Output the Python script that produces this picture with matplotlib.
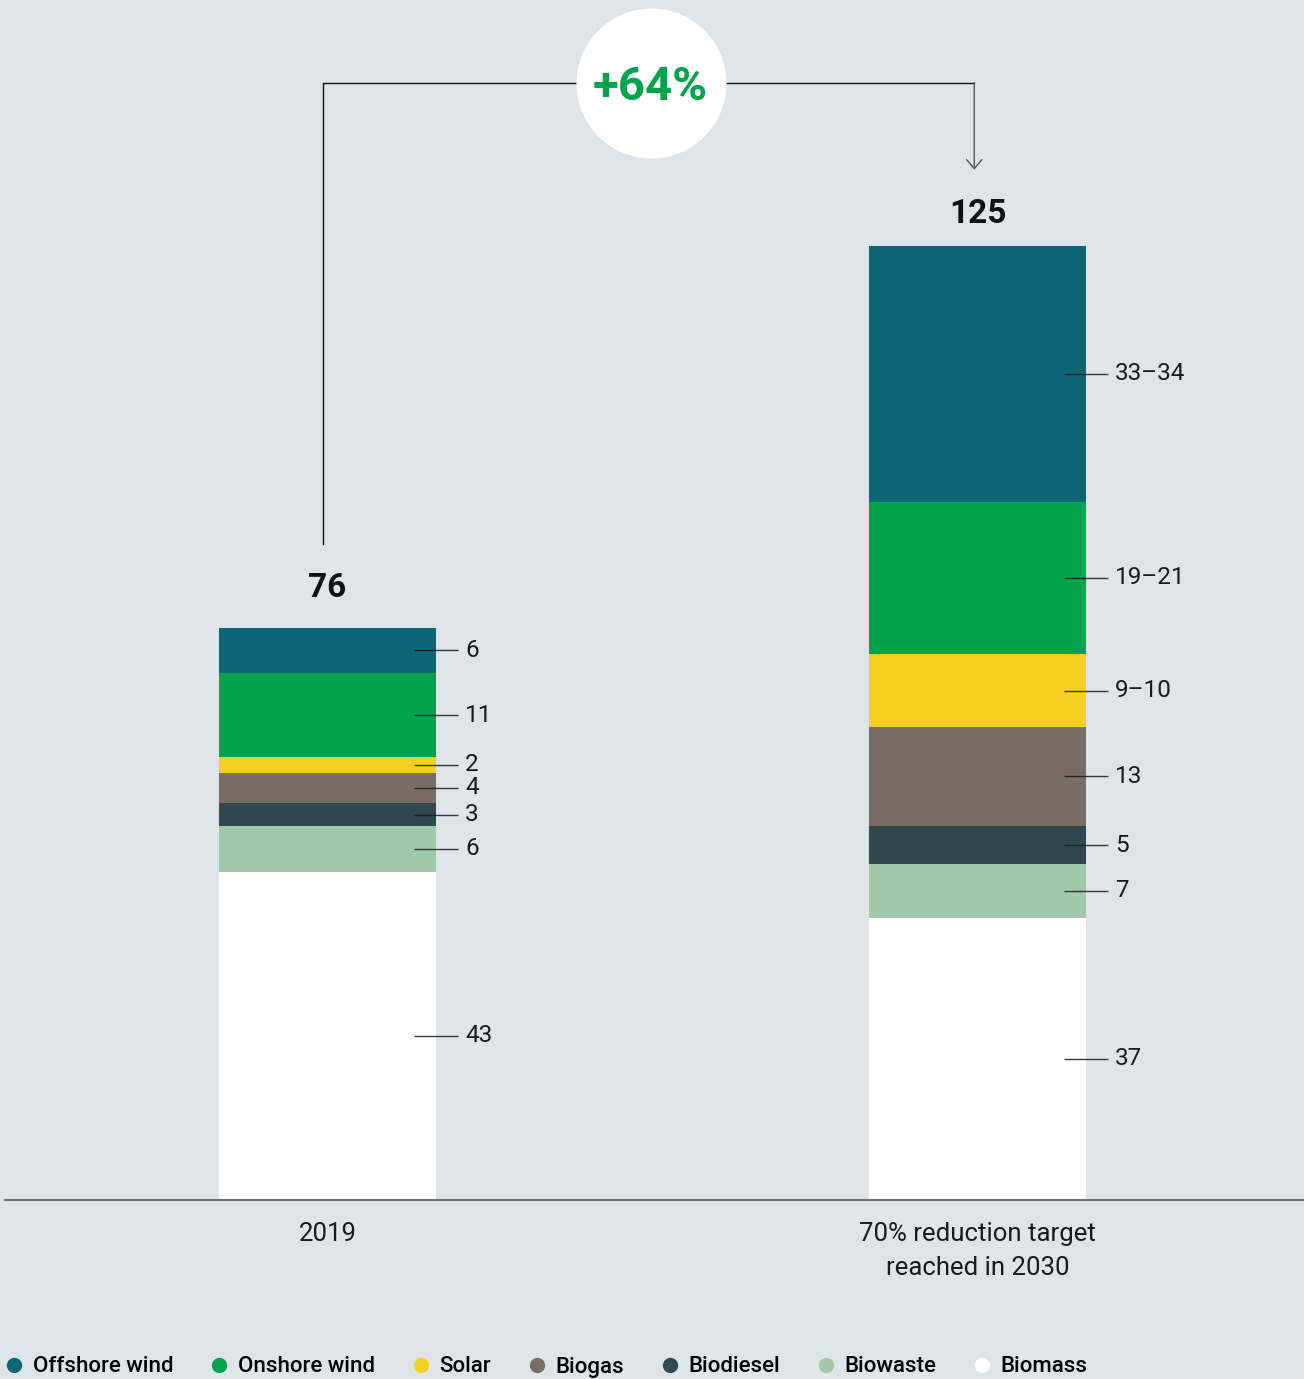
import matplotlib
matplotlib.use("Agg")
import matplotlib.pyplot as plt
from matplotlib.lines import Line2D
import numpy as np

plt.rcParams['font.family'] = ['Roboto', 'DejaVu Sans']

# energy sources, stacked bottom to top
sources = ['Biomass', 'Biowaste', 'Biodiesel', 'Biogas', 'Solar',
           'Onshore wind', 'Offshore wind']
colors = ['#ffffff', '#a1c8ab', '#30494e', '#796e65', '#f5d020',
          '#00a34b', '#0c6674']

categories = ['2019', '70% reduction target\nreached in 2030']
totals = [76, 125]

# 2019 values
vals_2019 = [43, 6, 3, 4, 2, 11, 6]
# 2030 ranges (low / high)
low_2030 = [37, 7, 5, 13, 9, 19, 33]
high_2030 = [37, 7, 5, 13, 10, 21, 34]

growth = '+64%'

bg = '#dfe4e8'
fig = plt.figure(figsize=(13.04, 13.79), dpi=100, facecolor=bg)
# axes: baseline at y=1200px, full width
ax = fig.add_axes([5 / 1304, 179 / 1379, 1299 / 1304, 1200 / 1379])
ax.set_facecolor(bg)
px_per_unit = 7.632
ax.set_ylim(0, 1200 / px_per_unit)
ax.set_xlim(-322.5 / 650, 1 + 326.5 / 650)

width = 217 / 650


def seg_label(lo, hi):
    return str(lo) if lo == hi else f'{lo}–{hi}'


stacks = [
    (np.array(vals_2019, float), [str(v) for v in vals_2019]),
    ((np.array(low_2030) + np.array(high_2030)) / 2.0,
     [seg_label(l, h) for l, h in zip(low_2030, high_2030)]),
]

for i, (vals, labels) in enumerate(stacks):
    bottom = 0.0
    for v, lab, c in zip(vals, labels, colors):
        ax.bar(i, v, width=width, bottom=bottom, color=c, linewidth=0, zorder=2)
        mid = bottom + v / 2
        ax.plot([i + 0.133, i + 0.201], [mid, mid], color='#1a1a1a', lw=1.0,
                alpha=0.85, zorder=3, solid_capstyle='butt')
        ax.text(i + 0.212, mid, lab, fontsize=17.5, va='center', ha='left',
                color='#1a1a1a', zorder=3)
        bottom += v

# totals above bars
for i, t in enumerate(totals):
    ax.text(i, t + 32 / px_per_unit, str(t), fontsize=24, fontweight='bold',
            ha='center', va='center', color='#111111')

# connector from 2019 to 2030 with growth bubble
y_top = (1200 - 83) / px_per_unit
x0, x1 = -0.007, 0.995
ax.plot([x0, x0, x1], [totals[0] + 10, y_top, y_top], color='#111111',
        lw=1.0, zorder=1)
ax.annotate('', xy=(x1, totals[1] + 10), xytext=(x1, y_top + 0.07),
            arrowprops=dict(arrowstyle='->,head_width=0.55,head_length=0.65',
                            color='#555555', lw=1.0, shrinkA=0, shrinkB=0),
            zorder=1)
ax.plot([0.497], [y_top], 'o', ms=108, color='white', mec='none', zorder=4)
ax.text(0.497, y_top - 4 / px_per_unit, growth, fontsize=34,
        fontweight='bold', color='#00a34b', ha='center', va='center', zorder=5)

# axis styling
for s in ['top', 'left', 'right']:
    ax.spines[s].set_visible(False)
ax.spines['bottom'].set_color('#707274')
ax.spines['bottom'].set_linewidth(1.5)
ax.spines['bottom'].set_zorder(5)
ax.set_yticks([])
ax.set_xticks([0, 1], categories)
ax.tick_params(axis='x', length=0, pad=16, labelsize=18.5, labelcolor='#1a1a1a')
for t in ax.get_xticklabels():
    t.set_linespacing(1.5)

# legend in original order
handles = [Line2D([], [], marker='o', ls='none', ms=11, mfc=c, mec='none')
           for c in colors[::-1]]
fig.legend(handles, sources[::-1], ncol=7, loc='center left',
           bbox_to_anchor=(6.7 / 1304, 12 / 1379), frameon=False,
           prop={'weight': 'medium', 'size': 16},
           handlelength=0.7, handletextpad=0.48, columnspacing=1.72,
           borderpad=0, borderaxespad=0)

fig.savefig('out.png', dpi=100, facecolor=bg)
